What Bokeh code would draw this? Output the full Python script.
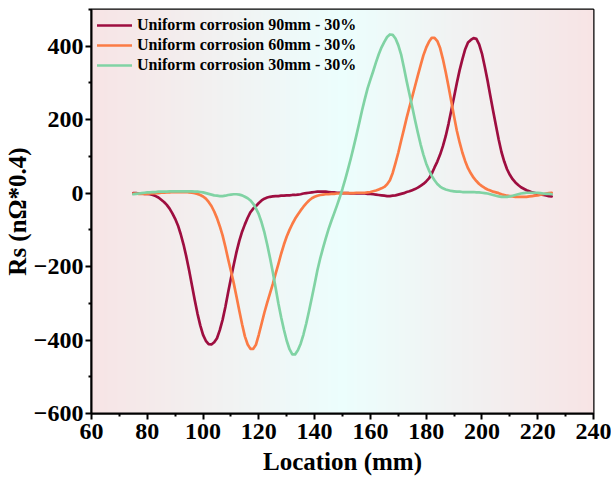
import numpy as np
from bokeh.plotting import figure
from bokeh.models import Range1d, FixedTicker
from bokeh.embed import file_html
from bokeh.resources import INLINE

# Sampling positions along the specimen (mm), 1 mm steps
location = list(range(75, 226))

# Rs signal (nΩ*0.4) for each corrosion position
rs_90mm = [
    0, 0, -1, -1, -2, -2, -3, -5, -8, -12,
    -18, -24, -32, -42, -55, -70, -88, -112, -140, -173,
    -210, -250, -290, -328, -360, -386, -402, -411, -412, -406,
    -395, -373, -345, -310, -270, -232, -195, -160, -130, -105,
    -85, -67, -52, -42, -35, -27, -20, -15, -12, -10,
    -9, -8, -8, -7, -7, -6, -6, -5, -5, -4,
    -3, -1, 0, 1, 2, 3, 4, 4, 4, 4,
    3, 2, 2, 1, 1, 0, 0, 0, -1, -1,
    -1, -1, -1, -1, -2, -2, -3, -4, -5, -6,
    -7, -8, -8, -7, -6, -4, -2, 0, 3, 5,
    8, 11, 15, 20, 25, 32, 40, 53, 70, 86,
    105, 128, 155, 188, 225, 262, 300, 335, 365, 392,
    410, 417, 422, 420, 405, 380, 345, 307, 265, 224,
    185, 146, 112, 86, 65, 50, 38, 29, 22, 16,
    12, 8, 5, 2, 0, -2, -3, -5, -6, -8,
    -9,
]
rs_60mm = [
    -1, -1, -2, -2, -2, -2, -1, -1, 0, 0,
    1, 1, 2, 2, 3, 3, 3, 3, 3, 3,
    2, 1, 0, -2, -5, -9, -15, -24, -35, -50,
    -68, -90, -115, -146, -180, -212, -245, -282, -320, -357,
    -390, -412, -424, -424, -412, -385, -355, -325, -298, -273,
    -248, -220, -193, -165, -140, -118, -100, -84, -70, -58,
    -47, -37, -28, -20, -14, -10, -7, -5, -4, -3,
    -3, -2, -2, -1, -1, 0, 0, 0, 0, 0,
    1, 1, 1, 1, 2, 3, 5, 7, 10, 13,
    17, 24, 35, 55, 82, 110, 142, 173, 205, 234,
    262, 291, 320, 348, 375, 396, 412, 423, 423, 414,
    395, 365, 330, 291, 250, 209, 170, 138, 110, 87,
    68, 54, 42, 33, 25, 19, 14, 10, 7, 4,
    2, 0, -3, -5, -7, -8, -9, -10, -10, -10,
    -10, -10, -9, -8, -7, -6, -4, -3, -1, 0,
    1,
]
rs_30mm = [
    -3, -2, -1, 0, 1, 2, 2, 3, 3, 4,
    4, 4, 4, 5, 5, 5, 5, 5, 5, 5,
    5, 5, 4, 4, 3, 2, 0, -2, -4, -6,
    -7, -8, -8, -7, -5, -4, -3, -3, -4, -6,
    -10, -14, -20, -29, -42, -58, -80, -107, -140, -176,
    -215, -257, -300, -338, -372, -402, -425, -439, -439, -428,
    -410, -385, -355, -321, -285, -248, -210, -178, -150, -123,
    -98, -76, -55, -34, -12, 12, 38, 66, 95, 126,
    158, 191, 225, 256, 285, 309, 332, 356, 378, 397,
    412, 425, 432, 431, 421, 403, 378, 343, 305, 270,
    235, 199, 165, 133, 105, 81, 62, 47, 35, 25,
    18, 13, 10, 8, 6, 5, 4, 4, 3, 3,
    3, 3, 3, 2, 2, 1, 0, -1, -3, -5,
    -7, -9, -10, -10, -10, -9, -7, -5, -3, -1,
    0, 1, 1, 1, 1, 1, 0, -1, -2, -2,
    -3,
]

series_labels = [
    "Uniform corrosion 90mm - 30%",
    "Uniform corrosion 60mm - 30%",
    "Uniform corrosion 30mm - 30%",
]
series_colors = ["#9E0E40", "#FB7B45", "#80D3A4"]

x_ticks = [60, 80, 100, 120, 140, 160, 180, 200, 220, 240]
x_minor = [70, 90, 110, 130, 150, 170, 190, 210, 230]
y_ticks = [-600, -400, -200, 0, 200, 400]
y_minor = [-500, -300, -100, 100, 300, 500]
y_tick_labels = ["\u2212600", "\u2212400", "\u2212200", "0", "200", "400"]

FONT = "Liberation Serif"

p = figure(
    width=611, height=492,
    x_range=Range1d(60, 240), y_range=Range1d(-600, 500),
    output_backend="svg", toolbar_location=None,
    min_border_left=91, min_border_right=18,
    min_border_top=9, min_border_bottom=79,
    x_axis_label="Location (mm)", y_axis_label="Rs (n\u03a9*0.4)",
)
p.xgrid.visible = False
p.ygrid.visible = False
p.background_fill_color = "white"
p.border_fill_color = "white"
p.outline_line_color = "black"
p.outline_line_width = 2
p.outline_line_alpha = 1

# Horizontal pink -> pale cyan -> pink backdrop across the frame
n_cols = 400
t = np.linspace(0.0, 1.0, n_cols)
d = np.abs(t - 0.5) * 2.0
edge = np.array([247, 228, 229], dtype=float)
mid = np.array([236, 254, 253], dtype=float)
rgb = mid[None, :] * (1 - d)[:, None] + edge[None, :] * d[:, None]
img = np.zeros((1, n_cols), dtype=np.uint32)
view = img.view(dtype=np.uint8).reshape((1, n_cols, 4))
view[0, :, 0] = rgb[:, 0].round().astype(np.uint8)
view[0, :, 1] = rgb[:, 1].round().astype(np.uint8)
view[0, :, 2] = rgb[:, 2].round().astype(np.uint8)
view[0, :, 3] = 255
x0, x1 = p.x_range.start, p.x_range.end
y0, y1 = p.y_range.start, p.y_range.end
p.image_rgba(image=[img], x=x0, y=y0, dw=x1 - x0, dh=y1 - y0)

for ys, lab, col in zip([rs_90mm, rs_60mm, rs_30mm], series_labels, series_colors):
    p.line(location, ys, line_color=col, line_width=2.7, legend_label=lab,
           line_join="round", line_cap="round")

# Axes
for ax in (p.xaxis[0], p.yaxis[0]):
    ax.axis_line_width = 2
    ax.axis_line_color = "black"
    ax.major_tick_line_width = 2
    ax.major_tick_line_color = "black"
    ax.major_tick_out = 6
    ax.major_tick_in = 0
    ax.minor_tick_line_width = 2
    ax.minor_tick_line_color = "black"
    ax.minor_tick_out = 3
    ax.minor_tick_in = 0
    ax.major_label_text_font = FONT
    ax.major_label_text_font_style = "bold"
    ax.major_label_text_font_size = "24px"
    ax.major_label_text_color = "black"
    ax.axis_label_text_font = FONT
    ax.axis_label_text_font_style = "bold"
    ax.axis_label_text_font_size = "25px"
    ax.axis_label_text_color = "black"

p.xaxis.ticker = FixedTicker(ticks=x_ticks, minor_ticks=x_minor)
p.yaxis.ticker = FixedTicker(ticks=y_ticks, minor_ticks=y_minor)
p.yaxis.major_label_overrides = {v: s for v, s in zip(y_ticks, y_tick_labels)}
p.xaxis.major_label_standoff = 4
p.yaxis.major_label_standoff = 2
p.xaxis.axis_label_standoff = 6
p.yaxis.axis_label_standoff = 0

# Legend
lg = p.legend[0]
lg.location = "top_left"
lg.margin = 0
lg.padding = 6
lg.spacing = 0
lg.glyph_width = 35
lg.glyph_height = 20
lg.label_height = 20
lg.label_standoff = 5
lg.label_text_font = FONT
lg.label_text_font_style = "bold"
lg.label_text_font_size = "16px"
lg.label_text_color = "black"
lg.background_fill_alpha = 0
lg.border_line_alpha = 0

open("out.html", "w").write(file_html(p, INLINE))
